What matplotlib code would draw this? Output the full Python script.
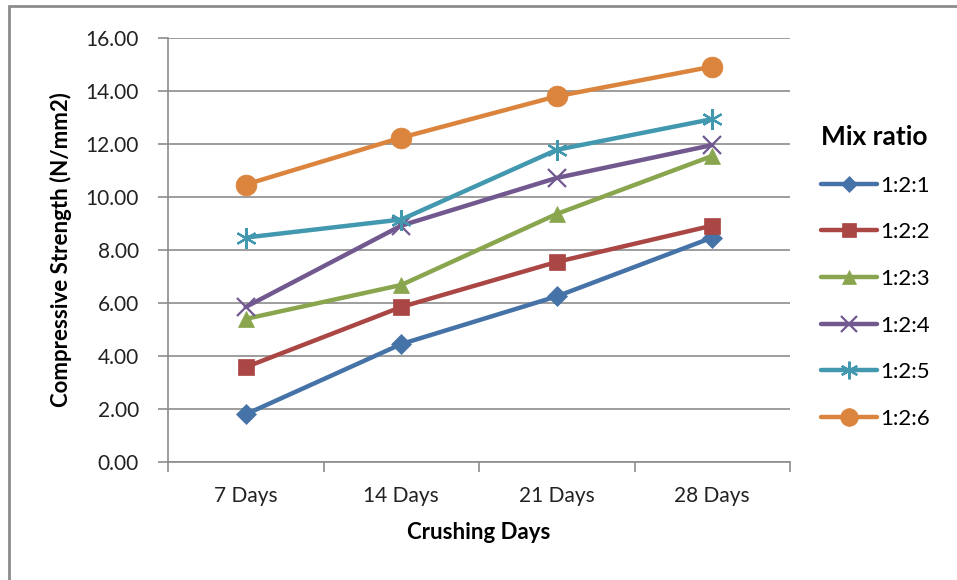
import matplotlib
matplotlib.use("Agg")
import matplotlib.pyplot as plt
from matplotlib.patches import Rectangle

plt.rcParams['font.family'] = ['Lato', 'DejaVu Sans']

days = ['7 Days', '14 Days', '21 Days', '28 Days']
mix_labels = ['1:2:1', '1:2:2', '1:2:3', '1:2:4', '1:2:5', '1:2:6']

s121 = [1.80, 4.45, 6.25, 8.47]
s122 = [3.58, 5.85, 7.55, 8.92]
s123 = [5.40, 6.68, 9.36, 11.55]
s124 = [5.85, 8.92, 10.72, 11.96]
s125 = [8.47, 9.15, 11.78, 12.94]
s126 = [10.47, 12.24, 13.80, 14.92]

series = [s121, s122, s123, s124, s125, s126]
colors = ['#4572a7', '#aa4643', '#89a54e', '#71588f', '#4198af', '#db843d']
markers = ['D', 's', '^', 'x', (6, 2, 0), 'o']
msizes = [10, 12, 12, 13, 15, 15]

fig = plt.figure(figsize=(9.57, 5.8), dpi=100)
ax = fig.add_axes([168 / 957, 1 - 462 / 580, (790 - 168) / 957, (462 - 38) / 580])

x = list(range(len(days)))
for vals, lab, c, m, ms in zip(series, mix_labels, colors, markers, msizes):
    ax.plot(x, vals, color=c, lw=3.2, marker=m, markersize=ms,
            markeredgewidth=1.6 if m in ('x', (6, 2, 0)) else 0.5,
            markeredgecolor=c, label=lab, solid_capstyle='round')

ax.set_xlim(-0.5, 3.5)
ax.set_ylim(0, 16)
ax.set_yticks([0, 2, 4, 6, 8, 10, 12, 14, 16])
ax.set_yticklabels(['%.2f' % v for v in ax.get_yticks()], fontsize=15, color='#222222')
ax.set_xticks(x)
ax.set_xticklabels(days, fontsize=15, color='#222222')
ax.set_xticks([-0.5, 0.5, 1.5, 2.5, 3.5], minor=True)
ax.tick_params(axis='x', which='major', length=0, pad=17)
ax.tick_params(axis='x', which='minor', length=7, color='#8c8c8c', width=1.2)
ax.tick_params(axis='y', length=7, color='#8c8c8c', width=1.2, pad=14)
ax.grid(axis='y', color='#8c8c8c', lw=1.2)
ax.set_axisbelow(True)
for side in ['top', 'right']:
    ax.spines[side].set_visible(False)
for side in ['left', 'bottom']:
    ax.spines[side].set_color('#8c8c8c')
    ax.spines[side].set_linewidth(1.2)

ax.set_xlabel('Crushing Days', fontsize=16, fontweight='bold', labelpad=12)
ax.set_ylabel('Compressive Strength (N/mm2)', fontsize=16, fontweight='bold', labelpad=10)

leg = ax.legend(title='Mix ratio', loc='upper left', bbox_to_anchor=(1.05, 0.795),
                frameon=False, fontsize=16, title_fontsize=19, labelspacing=1.2,
                handlelength=2.5, handletextpad=0.15, borderaxespad=0, borderpad=0,
                markerscale=0.85)
leg.get_title().set_fontweight('bold')
leg._legend_box.align = 'left'

# outer chart border
fig.patches.append(Rectangle((9 / 957, -0.05), 1.2, 1 - 6 / 580 + 0.05,
                             transform=fig.transFigure, fill=False,
                             edgecolor='#8c8c8c', lw=2))

fig.savefig('out.png', dpi=100)
